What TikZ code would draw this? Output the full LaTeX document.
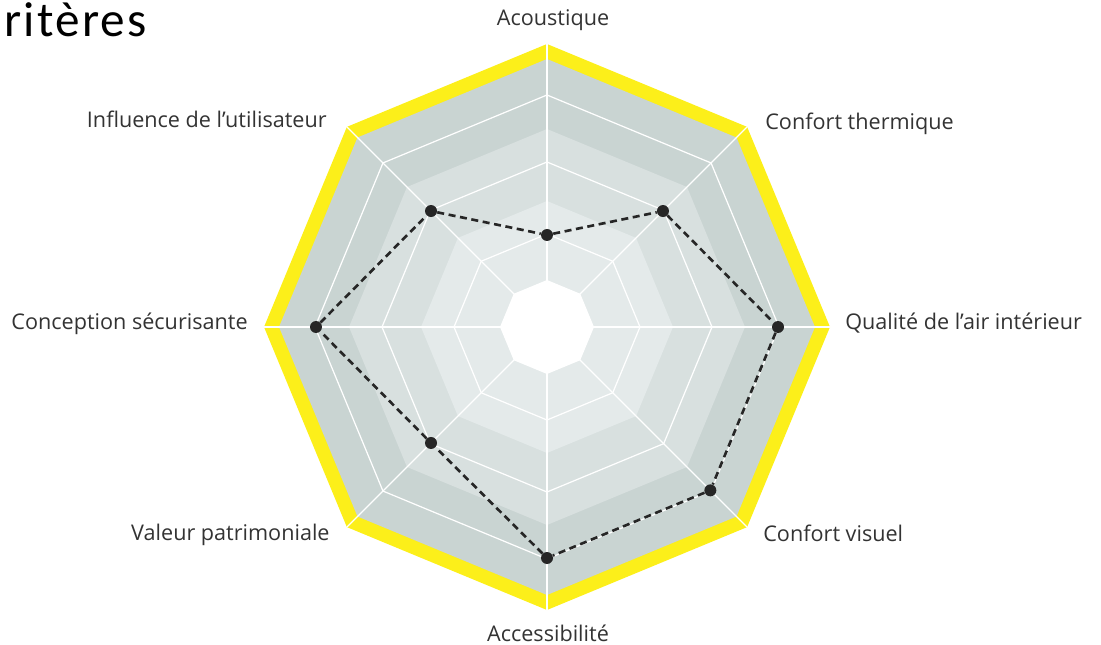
\documentclass[tikz,border=0pt]{standalone}
\usepackage{fontspec}
\setmainfont{Open Sans}
\newfontfamily\slideFont[LetterSpace=4.5]{Carlito}
\usetikzlibrary{positioning}
\definecolor{critYellow}{HTML}{FCEF1A}
\definecolor{bandOuter}{HTML}{C9D4D2}
\definecolor{bandMid}{HTML}{D8E0DF}
\definecolor{bandInner}{HTML}{E4EAEA}
\definecolor{labelGray}{HTML}{333333}
\definecolor{dotGray}{HTML}{262626}
\newcommand{\critOctagon}[1]{(90:#1) -- (45:#1) -- (0:#1) -- (-45:#1) -- (-90:#1) -- (-135:#1) -- (180:#1) -- (135:#1) -- cycle}
\tikzset{
    radarGrid/.pic={
		\fill[critYellow] \critOctagon{283};
		\fill[bandOuter] \critOctagon{268};
		\fill[bandMid] \critOctagon{198};
		\fill[bandInner] \critOctagon{126};
		\draw[white, line width=0.7pt] \critOctagon{232};
		\draw[white, line width=0.7pt] \critOctagon{165};
		\draw[white, line width=0.7pt] \critOctagon{93};
		\draw[white, line width=0.7pt] (90:283) -- (-90:283);
		\draw[white, line width=0.7pt] (0:283) -- (180:283);
		\draw[white, line width=0.7pt] (45:283) -- (-135:283);
		\draw[white, line width=0.7pt] (135:283) -- (-45:283);
		\fill[white] \critOctagon{47};
	}
}
\tikzset{
    critLabel/.style={text=labelGray, inner sep=0pt, font=\fontsize{12.3}{14}\selectfont},
    critDot/.style={circle, fill=dotGray, inner sep=0pt, minimum size=0.24cm},
    critDash/.style={dotGray, line width=1.5pt, dash pattern=on 4pt off 2.6pt}
}
\begin{document}
\begin{tikzpicture}[x=0.02cm, y=0.02cm]
	\useasboundingbox (-547,-318) rectangle (554,327);
	\pic at (0,0) {radarGrid};
	\node[anchor=base west, inner sep=0pt, font=\slideFont\fontsize{28}{32}\selectfont] (title) at (-543,290) {ritères};
	\node[critLabel, anchor=base] (lblAcou) at (6,301) {Acoustique};
	\node[critLabel, anchor=base west] (lblTherm) at (218,197) {Confort thermique};
	\node[critLabel, anchor=base west] (lblAir) at (298,-3) {Qualité de l’air intérieur};
	\node[critLabel, anchor=base west] (lblVis) at (216,-214) {Confort visuel};
	\node[critLabel, anchor=base] (lblAcc) at (1,-314) {Accessibilité};
	\node[critLabel, anchor=base east] (lblPatr) at (-217,-213) {Valeur patrimoniale};
	\node[critLabel, anchor=base east] (lblConc) at (-299,-3) {Conception sécurisante};
	\node[critLabel, anchor=base east] (lblInfl) at (-220,199) {Influence de l’utilisateur};
	\node[critDot] (ptAcou) at (90:92) {};
	\node[critDot] (ptTherm) at (45:164) {};
	\node[critDot] (ptAir) at (0:231) {};
	\node[critDot] (ptVis) at (-45:231) {};
	\node[critDot] (ptAcc) at (-90:231) {};
	\node[critDot] (ptPatr) at (-135:164) {};
	\node[critDot] (ptConc) at (180:231) {};
	\node[critDot] (ptInfl) at (135:164) {};
	\draw[critDash] (ptAcou) -- (ptTherm) -- (ptAir) -- (ptVis) -- (ptAcc) -- (ptPatr) -- (ptConc) -- (ptInfl) -- (ptAcou);
\end{tikzpicture}
\end{document}
